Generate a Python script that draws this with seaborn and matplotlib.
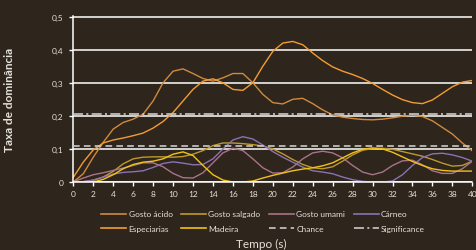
import matplotlib
matplotlib.use("Agg")
import matplotlib.pyplot as plt
from matplotlib.lines import Line2D
import pandas as pd
import seaborn as sns

# Tempo (s), uma leitura por segundo
tempo = list(range(0, 41))

gosto_acido = [0, 0.025, 0.075, 0.12, 0.16, 0.18, 0.19, 0.205, 0.245, 0.3,
               0.335, 0.342, 0.328, 0.313, 0.305, 0.315, 0.328, 0.328, 0.3, 0.265,
               0.24, 0.236, 0.25, 0.253, 0.237, 0.218, 0.203, 0.196, 0.192, 0.189,
               0.188, 0.19, 0.194, 0.199, 0.202, 0.198, 0.185, 0.165, 0.145, 0.118,
               0.094]
especiarias = [0.014, 0.06, 0.097, 0.118, 0.127, 0.133, 0.14, 0.148, 0.163, 0.183,
               0.21, 0.245, 0.28, 0.305, 0.312, 0.3, 0.28, 0.277, 0.3, 0.35,
               0.395, 0.42, 0.425, 0.415, 0.39, 0.367, 0.348, 0.335, 0.325, 0.313,
               0.298, 0.28, 0.263, 0.249, 0.24, 0.237, 0.248, 0.268, 0.288, 0.302,
               0.307]
gosto_salgado = [0, 0.001, 0.005, 0.015, 0.032, 0.055, 0.07, 0.075, 0.076, 0.076,
                 0.075, 0.077, 0.084, 0.095, 0.11, 0.118, 0.118, 0.116, 0.113, 0.109,
                 0.1, 0.085, 0.068, 0.053, 0.043, 0.04, 0.046, 0.063, 0.082, 0.096,
                 0.101, 0.102, 0.099, 0.092, 0.085, 0.078, 0.068, 0.057, 0.048, 0.05,
                 0.063]
madeira = [0, 0, 0, 0.008, 0.022, 0.04, 0.053, 0.06, 0.063, 0.07,
           0.084, 0.091, 0.08, 0.05, 0.022, 0.006, 0, 0, 0.003, 0.012,
           0.02, 0.027, 0.034, 0.039, 0.043, 0.049, 0.058, 0.073, 0.088, 0.099,
           0.103, 0.1, 0.09, 0.076, 0.062, 0.05, 0.04, 0.035, 0.033, 0.033,
           0.033]
gosto_umami = [0, 0.012, 0.022, 0.028, 0.035, 0.042, 0.05, 0.058, 0.058, 0.046,
               0.026, 0.013, 0.012, 0.028, 0.058, 0.088, 0.102, 0.095, 0.07, 0.043,
               0.027, 0.028, 0.045, 0.07, 0.088, 0.093, 0.088, 0.073, 0.05, 0.03,
               0.022, 0.03, 0.05, 0.064, 0.066, 0.052, 0.034, 0.026, 0.026, 0.04,
               0.063]
carneo = [0, 0.001, 0.006, 0.015, 0.024, 0.029, 0.031, 0.034, 0.044, 0.056,
          0.061, 0.057, 0.052, 0.053, 0.07, 0.1, 0.127, 0.137, 0.13, 0.112,
          0.092, 0.075, 0.06, 0.045, 0.034, 0.03, 0.025, 0.015, 0.007, 0.002,
          0, 0, 0.003, 0.022, 0.05, 0.074, 0.085, 0.087, 0.082, 0.074,
          0.063]
chance = 0.11
significance = 0.205

series = {
    "Gosto ácido": (gosto_acido, "#cf8a3e"),
    "Gosto salgado": (gosto_salgado, "#bd9a2c"),
    "Gosto umami": (gosto_umami, "#a9738a"),
    "Cárneo": (carneo, "#8a72b4"),
    "Especiarias": (especiarias, "#f39c34"),
    "Madeira": (madeira, "#f2c21a"),
}

bg = "#2e251c"
txt = "#e6e2dc"

fig = plt.figure(figsize=(4.77, 2.51), dpi=100, facecolor=bg)
plt.rcParams["font.family"] = ["Lato", "DejaVu Sans"]
ax = fig.add_axes([73.3 / 477, 68 / 251, 399 / 477, 165.7 / 251])
ax.set_facecolor("none")

for name, (vals, col) in series.items():
    df = pd.DataFrame({"t": tempo, "v": vals})
    sns.lineplot(data=df, x="t", y="v", ax=ax, color=col, lw=1.0, label=name, legend=False)

ax.axhline(chance, color="#c9c9c9", lw=1.2, dashes=(4, 2.5), zorder=3)
ax.axhline(significance, color="#c9c9c9", lw=1.2, dashes=(6, 2, 1.2, 2), zorder=3)

ax.set_xlim(0, 40)
ax.set_ylim(0, 0.501)
ax.set_xticks(range(0, 41, 2))
ax.set_yticks([0, 0.1, 0.2, 0.3, 0.4, 0.5])
ax.set_yticklabels(["0", "0,1", "0,2", "0,3", "0,4", "0,5"])
ax.yaxis.grid(True, color="white", lw=1.1)
ax.xaxis.grid(False)
ax.set_axisbelow(True)
for s in ["top", "right"]:
    ax.spines[s].set_visible(False)
for s in ["left", "bottom"]:
    ax.spines[s].set_color("white")
    ax.spines[s].set_linewidth(1.1)
ax.tick_params(axis="both", colors="white", labelcolor=txt, labelsize=6,
               length=3, width=1, direction="out")
ax.tick_params(axis="x", pad=3)
ax.tick_params(axis="y", pad=4)

ax.set_ylabel("Taxa de dominância", color=txt, fontsize=8.5, fontweight="bold")
ax.yaxis.set_label_coords(-0.146, 0.5)
ax.set_xlabel("Tempo (s)", color=txt, fontsize=8.5, va="center")
ax.xaxis.set_label_coords(0.47, -0.374)

# legenda em 2 linhas (ordem por colunas)
h = {n: Line2D([], [], color=c, lw=1.2) for n, (_, c) in series.items()}
h["Chance"] = Line2D([], [], color="#c9c9c9", lw=1.2, dashes=(4, 2.5))
h["Significance"] = Line2D([], [], color="#c9c9c9", lw=1.2, dashes=(6, 2, 1.2, 2))
order = ["Gosto ácido", "Especiarias", "Gosto salgado", "Madeira",
         "Gosto umami", "Chance", "Cárneo", "Significance"]
fig.legend([h[n] for n in order], order, ncol=4, loc="center",
           bbox_to_anchor=(263 / 477, 29 / 251), frameon=False, fontsize=6,
           labelcolor=txt, handlelength=3.0, handletextpad=0.3,
           columnspacing=1.0, labelspacing=0.85)

fig.savefig("out.png", dpi=100, facecolor=bg)
